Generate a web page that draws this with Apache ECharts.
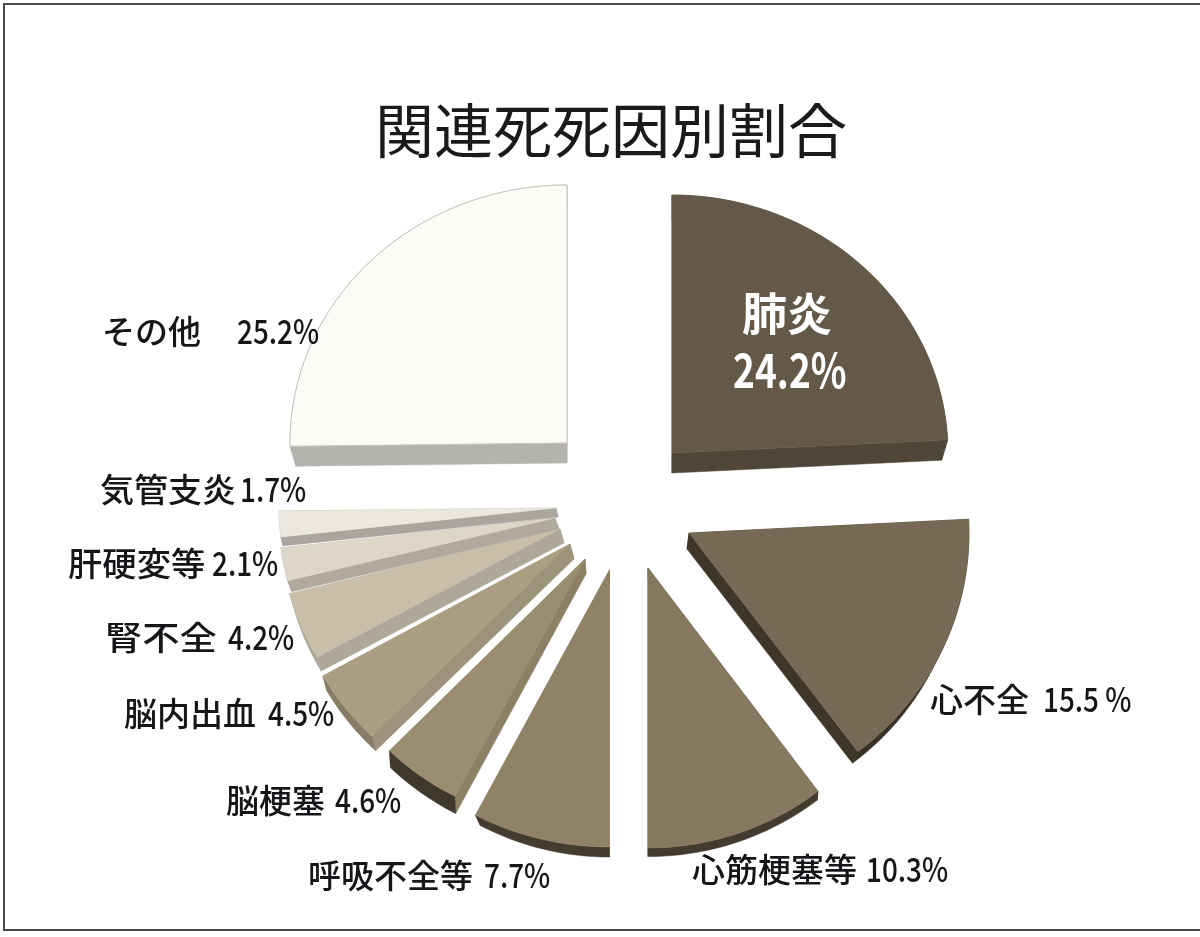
<!DOCTYPE html>
<html>
<head>
<meta charset="utf-8">
<style>html,body{margin:0;padding:0;background:#fff}#chart{width:1200px;height:937px}</style>
<script src="https://cdn.jsdelivr.net/npm/echarts@6/dist/echarts.min.js"></script>
</head>
<body>
<div id="chart"></div>
<script>
// Share of related causes of death, clockwise from twelve o'clock.
const chartTitle = '関連死死因別割合';
const causes = ['肺炎', '心不全', '心筋梗塞等', '呼吸不全等', '脳梗塞', '脳内出血', '腎不全', '肝硬変等', '気管支炎', 'その他'];
const shares = [24.2, 15.5, 10.3, 7.7, 4.6, 4.5, 4.2, 2.1, 1.7, 25.2];
const shareSuffix = ['%', ' %', '%', '%', '%', '%', '%', '%', '%', '%'];

// Exploded wedge placement: apex of the top face and elliptical radii.
const apexX = [672, 689, 648, 609.5, 585, 570, 560, 555, 556, 567];
const apexY = [453, 533, 568, 570, 559, 544, 529, 518, 508, 443];
const radiusX = [276, 280, 282, 288, 280, 284, 279, 276, 277, 277];
const radiusY = [258, 274, 280, 277, 268, 268, 260, 252, 243, 258];

// Extrusion of each wedge: offset at the apex plus a perspective shrink towards it.
const depthX = [0, -2, 0, 0, 1, 4, 4, 4, 2, 0];
const depthY = [20, 16, 10, 12, 15, 15, 14, 11, 9, 20];
const shrinkX = [0.978, 0.98, 0.995, 0.965, 1, 1, 1, 1, 1, 0.978];
const shrinkY = [0.985, 0.98, 0.995, 0.993, 1.01, 1, 1, 1, 1, 0.99];

const topColors = ['#645949', '#766a56', '#86795f', '#8f8266', '#9a8d70', '#ab9d82', '#c9bea7', '#ddd7c9', '#ece8de', '#fcfbf7'];
const wallColors = ['#4f4637', '#3f3528', '#4e4637', '#7d7157', '#8c8066', '#9d927a', '#aea79a', '#afa99e', '#a9a69f', '#b5b3ad'];
const rimColors = ['#4f4637', '#3a3226', '#433b2e', '#443c2f', '#3f382c', '#877c66', '#aea79a', '#afa99e', '#a9a69f', '#b5b3ad'];
const topStrokes = [null, null, null, null, null, null, null, null, null, '#c9c6bd'];

// Label placement: name start, value start and vertical centres.
const nameX = [742, 930, 692, 308, 226, 124, 105, 68, 100, 102];
const nameStretch = [1, 1, 1, 1, 1, 1, 1.13, 1.04, 1.03, 1];
const valueX = [733, 1043, 866, 484, 335, 268, 228, 212, 240, 237];
const labelY = [314, 699, 869, 875, 800, 713, 637, 563, 489, 331];
const valueY = [370, 699, 869, 875, 800, 713, 637, 563, 489, 331];

const total = shares.reduce((a, b) => a + b, 0);
let running = 0;
const seriesData = shares.map((v, i) => {
  const row = [i, v, running];
  running += v;
  return row;
});

function renderWedge(params, api) {
  const i = api.value(0);
  const from = api.value(2) / total * Math.PI * 2;
  const to = (api.value(2) + api.value(1)) / total * Math.PI * 2;
  const ax = apexX[i], ay = apexY[i];

  const onTop = a => [ax + radiusX[i] * Math.sin(a), ay - radiusY[i] * Math.cos(a)];
  const lowered = p => [
    ax + depthX[i] + (p[0] - ax) * shrinkX[i],
    ay + depthY[i] + (p[1] - ay) * shrinkY[i]
  ];

  const steps = Math.max(6, Math.round((to - from) / 0.03));
  const arc = [];
  for (let s = 0; s <= steps; s++) arc.push(onTop(from + (to - from) * s / steps));
  const apex = [ax, ay];

  const poly = (pts, fill, extra) => ({
    type: 'polygon',
    shape: { points: pts },
    style: Object.assign({ fill: fill, stroke: fill, lineWidth: 0.5 }, extra || {})
  });

  const children = [
    poly([apex, arc[0], lowered(arc[0]), lowered(apex)], wallColors[i]),
    poly([apex, arc[steps], lowered(arc[steps]), lowered(apex)], wallColors[i]),
    poly(arc.concat(arc.slice().reverse().map(lowered)), rimColors[i]),
    poly([apex].concat(arc), topColors[i], topStrokes[i] ? { stroke: topStrokes[i], lineWidth: 1 } : null)
  ];

  const inverse = i === 0;
  const textColor = inverse ? '#ffffff' : '#16161a';
  children.push({
    type: 'text',
    x: nameX[i], y: labelY[i],
    scaleX: nameStretch[i],
    style: {
      text: causes[i],
      x: 0, y: 0,
      fill: textColor,
      font: (inverse ? '700 45px' : '500 33px') + ' "Noto Sans CJK JP"',
      textAlign: 'left',
      textVerticalAlign: 'middle'
    }
  });
  children.push({
    type: 'text',
    x: valueX[i], y: valueY[i],
    scaleX: inverse ? 0.79 : 0.82,
    style: {
      text: api.value(1).toFixed(1) + shareSuffix[i],
      x: 0, y: 0,
      fill: textColor,
      font: (inverse ? '700 47px' : '500 34px') + ' "Noto Sans CJK JP"',
      textAlign: 'left',
      textVerticalAlign: 'middle'
    }
  });
  return { type: 'group', children: children };
}

const chart = echarts.init(document.getElementById('chart'), null, { renderer: 'canvas' });
chart.setOption({
  animation: false,
  backgroundColor: '#ffffff',
  title: {
    text: chartTitle,
    left: 606,
    top: 96,
    textAlign: 'center',
    textStyle: { fontFamily: '"Noto Sans CJK JP"', fontSize: 59, fontWeight: 400, color: '#1a1a1c' }
  },
  graphic: [{
    type: 'polyline',
    silent: true,
    shape: { points: [[1210, 4], [4, 4], [4, 930], [1210, 930]] },
    style: { fill: null, stroke: '#4a4a4a', lineWidth: 2 }
  }],
  series: [{
    type: 'custom',
    coordinateSystem: 'none',
    silent: true,
    renderItem: renderWedge,
    data: seriesData
  }]
});
</script>
</body>
</html>
